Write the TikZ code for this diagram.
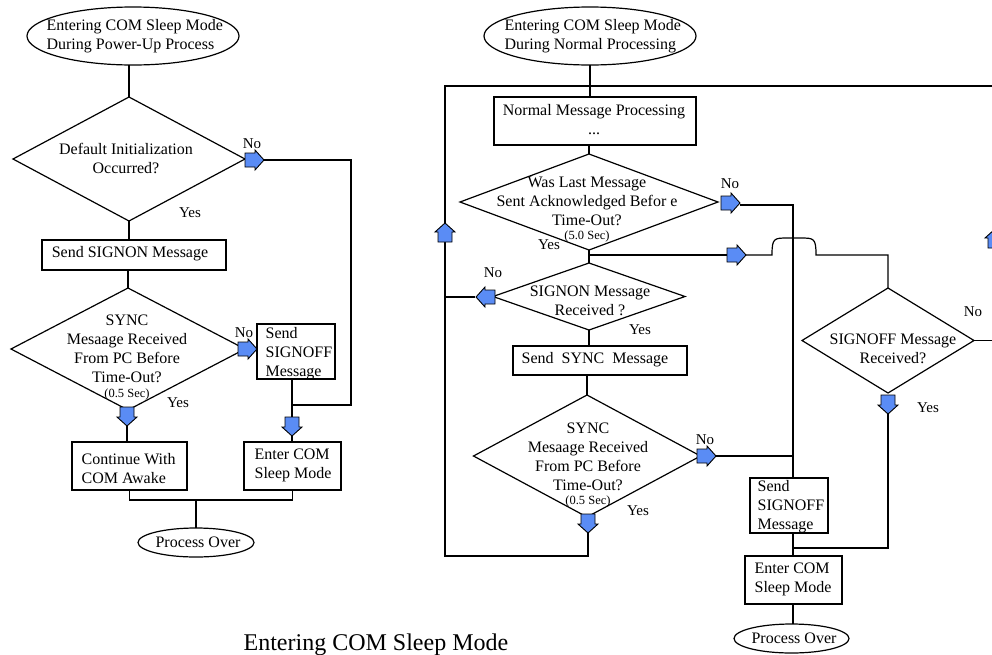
\documentclass[tikz,border=0pt]{standalone}
\usepackage{fontspec}
\setmainfont{Liberation Serif}
\usetikzlibrary{shapes.geometric}
\definecolor{arrblue}{RGB}{90,140,245}
\tikzset{
  barR/.pic={\draw[fill=arrblue,line width=0.9pt,line join=miter] (0,-7)--(10,-7)--(10,-10)--(19,0)--(10,10)--(10,7)--(0,7)--cycle;
             \coordinate (-tail) at (0,0); \coordinate (-tip) at (19,0);},
  barL/.pic={\draw[fill=arrblue,line width=0.9pt,line join=miter] (0,-7)--(-10,-7)--(-10,-10)--(-19,0)--(-10,10)--(-10,7)--(0,7)--cycle;
             \coordinate (-tail) at (0,0); \coordinate (-tip) at (-19,0);},
  barD/.pic={\draw[fill=arrblue,line width=0.9pt,line join=miter] (-7,0)--(-7,10)--(-10,10)--(0,19)--(10,10)--(7,10)--(7,0)--cycle;
             \coordinate (-tail) at (0,0); \coordinate (-tip) at (0,19);},
  barU/.pic={\draw[fill=arrblue,line width=0.9pt,line join=miter] (-7,0)--(-7,-10)--(-10,-10)--(0,-19)--(10,-10)--(7,-10)--(7,0)--cycle;
             \coordinate (-tail) at (0,0); \coordinate (-tip) at (0,-19);},
}
\begin{document}
\begin{tikzpicture}[x=1pt,y=-1pt,line width=1.2pt,
  box/.style={draw,rectangle,inner sep=0,outer sep=0},
  dia/.style={draw,diamond,inner sep=0,outer sep=0},
  ell/.style={draw,ellipse,inner sep=0,outer sep=0},
  txt/.style={inner sep=0,font=\fontsize{16}{19}\selectfont},
  txl/.style={txt,align=left},
  txc/.style={txt,align=center},
  sml/.style={inner sep=0,font=\fontsize{12.5}{14}\selectfont},
  lbl/.style={inner sep=0,font=\fontsize{15}{18}\selectfont}]
\useasboundingbox (0,0) rectangle (992,654);
\clip (0,0) rectangle (992,654);

% ---------------- left flowchart ----------------
\node[ell,minimum width=212,minimum height=58] (e1) at (133,36) {};
\node[txl,anchor=west] (e1t) at (46,36.5) {Entering COM Sleep Mode\\During Power-Up Process};
\node[dia,minimum width=232,minimum height=124] (d1) at (129,159) {};
\node[txc] (d1t) at (126,158.5) {Default Initialization\\Occurred?};
\node[box,minimum width=184,minimum height=30] (b1) at (134,255) {};
\node[txc] (b1t) at (130,254) {Send SIGNON Message};
\node[dia,minimum width=234,minimum height=122] (d2) at (128,349) {};
\node[txc] (d2t) at (127,348.5) {SYNC\\Mesaage Received\\From PC Before\\Time-Out?};
\node[sml] (d2s) at (127,394) {(0.5 Sec)};
\node[box,minimum width=78,minimum height=55] (b2) at (296,351.5) {};
\node[txl,anchor=west] (b2t) at (265,353.5) {Send\\SIGNOFF\\Message};
\node[box,minimum width=115,minimum height=48] (b3) at (129.5,466) {};
\node[txl,anchor=west] (b3t) at (81,468.5) {Continue With\\COM Awake};
\node[box,minimum width=97,minimum height=48] (b4) at (292.5,466) {};
\node[txl,anchor=west] (b4t) at (254,465.5) {Enter COM\\Sleep Mode};
\node[ell,minimum width=116,minimum height=29] (e2) at (196,542.5) {};
\node[txc] (e2t) at (198,542) {Process Over};

\node[lbl] (n1) at (252,144) {No};
\node[lbl] (y1) at (190,213) {Yes};
\node[lbl] (n2) at (244,333) {No};
\node[lbl] (y2) at (178,403) {Yes};

\coordinate (j1) at (292,405);
\coordinate (m1) at (196,500);
\draw (d1.north |- e1.south) -- (d1.north);
\draw (d1.south) -- (d1.south |- b1.north);
\draw (d2.north |- b1.south) -- (d2.north);
\draw (245,160) ++(19,0) -- ++(87,0) |- (j1);
\draw (b2.south -| j1) -- (292,417);
\draw (127,426) -- (127,442);
\draw (292,436) -- (b4.north -| j1);
\draw (b3.south) -- ++(0,10) -| (b4.south);
\draw (m1) -- (e2.north);

\pic (a1) at (245,160) {barR};
\pic (a2) at (238,349) {barR};
\pic (a3) at (127,407) {barD};
\pic (a4) at (292,417) {barD};

% ---------------- right flowchart ----------------
\node[ell,minimum width=212,minimum height=58] (e3) at (590,36) {};
\node[txl,anchor=west] (e3t) at (504,36.5) {Entering COM Sleep Mode\\During Normal Processing};
\node[box,minimum width=202,minimum height=48] (b5) at (595,121) {};
\node[txc] (b5t) at (594,119.5) {Normal Message Processing\\...};
\node[dia,minimum width=258,minimum height=96] (d3) at (589,202) {};
\node[txc] (d3t) at (587,201.5) {Was Last Message\\Sent Acknowledged Befor e\\Time-Out?};
\node[sml] (d3s) at (587,236) {(5.0 Sec)};
\node[dia,minimum width=192,minimum height=67] (d4) at (589,296.5) {};
\node[txc] (d4t) at (590,301) {SIGNON Message\\Received ?};
\node[box,minimum width=174,minimum height=29] (b6) at (600,360.5) {};
\node[txc] (b6t) at (595,360) {Send\ \ SYNC\ \ Message};
\node[dia,minimum width=227,minimum height=122] (d5) at (587,456) {};
\node[txc] (d5t) at (588,456.5) {SYNC\\Mesaage Received\\From PC Before\\Time-Out?};
\node[sml] (d5s) at (588,501) {(0.5 Sec)};
\node[box,minimum width=78,minimum height=55] (b7) at (789,505.5) {};
\node[txl,anchor=west] (b7t) at (757,507) {Send\\SIGNOFF\\Message};
\node[box,minimum width=97,minimum height=48] (b8) at (793.5,580) {};
\node[txl,anchor=west] (b8t) at (754,579) {Enter COM\\Sleep Mode};
\node[ell,minimum width=115,minimum height=29] (e4) at (791.5,638.5) {};
\node[txc] (e4t) at (794,638) {Process Over};
\node[dia,minimum width=172,minimum height=105] (d6) at (888,340.5) {};
\node[txc] (d6t) at (893,349) {SIGNOFF Message\\Received?};

\node[lbl] (n3) at (730,184) {No};
\node[lbl] (y3) at (549,245) {Yes};
\node[lbl] (n4) at (493,273) {No};
\node[lbl] (y4) at (640,330) {Yes};
\node[lbl] (n5) at (705,440) {No};
\node[lbl] (y5) at (638,511) {Yes};
\node[lbl] (n6) at (973,312) {No};
\node[lbl] (y6) at (928,408) {Yes};

\node[inner sep=0,anchor=base west,font=\fontsize{24}{28}\selectfont] (title) at (243,650) {Entering COM Sleep Mode};

\coordinate (tl) at (445,86);
\coordinate (tr) at (995,86);
\coordinate (j2) at (589,255);
\coordinate (j3) at (793,456);
\coordinate (j4) at (793,548);

\draw (e3.south) -- (e3.south |- b5.north);
\draw (445,223) -- (tl) -- (tr) -- (995,229);
\draw (b5.south -| d3.north) -- (d3.north);
\draw (d3.south) -- (d4.north);
\draw (j2) -- (727,255);
\draw (746,255) -- (772,255) .. controls (772,238) and (774,238) .. (788,238) -- (800,238)
      .. controls (814,238) and (816,238) .. (816,255) -| (d6.north);
\draw (740,205) -| (j3) -- (j3 |- b7.north);
\draw (716,456) -- (j3);
\draw (475,297) -- (475,297 -| tl);
\draw (d4.south) -- (d4.south |- b6.north);
\draw (b6.south -| d5.north) -- (d5.north);
\draw (588,533) -- (588,556) -| (445,242);
\draw (b7.south -| j3) -- (j3 |- b8.north);
\draw (888,413) |- (j4);
\draw (b8.south -| j3) -- (j3 |- e4.north);
\draw (d6.east) -- (995,340.5) -- (995,248);

\pic (a5) at (721,203) {barR};
\pic (a6) at (727,255) {barR};
\pic (a7) at (495,297) {barL};
\pic (a8) at (588,514) {barD};
\pic (a9) at (445,242) {barU};
\pic (a10) at (697,456) {barR};
\pic (a11) at (888,395) {barD};
\pic (a12) at (995,248) {barU};
\end{tikzpicture}
\end{document}
